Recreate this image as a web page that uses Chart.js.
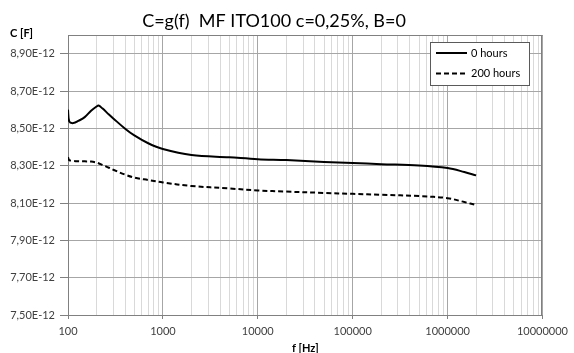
<!DOCTYPE html>
<html>
<head>
<meta charset="utf-8">
<script src="https://cdn.jsdelivr.net/npm/chart.js@4"></script>
<style>
html, body { margin: 0; padding: 0; background: #fff; }
</style>
</head>
<body>
<canvas id="cv" width="574" height="353"></canvas>
<script>
// frequenz in Hz
const freq = [100, 103, 114, 130, 150, 175, 200, 210, 230, 270, 300, 400, 500, 700, 1000, 2000, 5000, 10000, 20000, 50000, 100000, 200000, 500000, 1000000, 1500000, 2000000];
// kapazitaet in pF (x 1E-12 F)
const hours0 = [8.600, 8.537, 8.528, 8.541, 8.560, 8.594, 8.617, 8.622, 8.607, 8.574, 8.553, 8.498, 8.462, 8.420, 8.389, 8.357, 8.345, 8.335, 8.330, 8.320, 8.314, 8.308, 8.301, 8.287, 8.266, 8.248];
const hours200 = [8.345, 8.330, 8.326, 8.324, 8.323, 8.322, 8.317, 8.313, 8.304, 8.289, 8.278, 8.252, 8.236, 8.223, 8.210, 8.191, 8.178, 8.167, 8.161, 8.154, 8.149, 8.144, 8.137, 8.126, 8.105, 8.089];
const seriesNames = ["0 hours", "200 hours"];
const yTicks = [7.5, 7.7, 7.9, 8.1, 8.3, 8.5, 8.7, 8.9];
const decades = [100, 1000, 10000, 100000, 1000000, 10000000];

const FONT = "Lato, 'Open Sans', sans-serif";

function isMajor(v) {
    return decades.includes(Math.round(v));
}

// legende mit rahmen im diagramm
const boxLegend = {
    id: "boxLegend",
    afterDraw(chart) {
        const ctx = chart.ctx;
        ctx.save();
        ctx.fillStyle = "#fff";
        ctx.fillRect(430.5, 42.5, 99, 43);
        ctx.strokeStyle = "#5a5a5a";
        ctx.lineWidth = 1;
        ctx.strokeRect(430.5, 42.5, 99, 43);
        chart.data.datasets.forEach((ds, i) => {
            const y = 53 + i * 20.5;
            ctx.beginPath();
            ctx.setLineDash(ds.borderDash || []);
            ctx.lineWidth = 2;
            ctx.strokeStyle = ds.borderColor;
            ctx.moveTo(436, y);
            ctx.lineTo(467, y);
            ctx.stroke();
            ctx.setLineDash([]);
            ctx.fillStyle = "#000";
            ctx.font = "11px " + FONT;
            ctx.textBaseline = "middle";
            ctx.fillText(ds.label, 471, y);
        });
        ctx.restore();
    }
};

// rahmen oben/rechts + y-achsentitel
const frame = {
    id: "frame",
    beforeDatasetsDraw(chart) {
        const a = chart.chartArea;
        const ctx = chart.ctx;
        ctx.save();
        ctx.strokeStyle = "#808080";
        ctx.lineWidth = 1;
        ctx.beginPath();
        ctx.moveTo(a.left, Math.round(a.top) + 0.5);
        ctx.lineTo(a.right, Math.round(a.top) + 0.5);
        ctx.moveTo(Math.round(a.right) - 0.5, a.top);
        ctx.lineTo(Math.round(a.right) - 0.5, a.bottom);
        ctx.stroke();
        ctx.restore();
    },
    afterDraw(chart) {
        const ctx = chart.ctx;
        ctx.save();
        ctx.fillStyle = "#000";
        ctx.font = "bold 11px " + FONT;
        ctx.textBaseline = "middle";
        ctx.fillText("C [F]", 10, 33);
        ctx.restore();
    }
};

const config = {
    type: "line",
    data: {
        datasets: [
            {
                label: seriesNames[0],
                data: freq.map((f, i) => ({ x: f, y: hours0[i] })),
                borderColor: "#000",
                borderWidth: 2,
                pointRadius: 0,
                tension: 0.35,
                fill: false
            },
            {
                label: seriesNames[1],
                data: freq.map((f, i) => ({ x: f, y: hours200[i] })),
                borderColor: "#000",
                borderWidth: 2,
                borderDash: [5, 3],
                pointRadius: 0,
                tension: 0.35,
                fill: false
            }
        ]
    },
    options: {
        responsive: false,
        animation: false,
        devicePixelRatio: 1,
        layout: { padding: { left: 0, right: 26, top: 0, bottom: 0 } },
        plugins: {
            legend: { display: false },
            tooltip: { enabled: false },
            title: {
                display: true,
                text: "C=g(f)  MF ITO100 c=0,25%, B=0",
                color: "#000",
                font: { family: FONT, size: 18, weight: "normal" },
                padding: { top: 10, bottom: 3.4 }
            }
        },
        scales: {
            x: {
                type: "logarithmic",
                min: 100,
                max: 10000000,
                afterBuildTicks(scale) {
                    let t = [];
                    for (let d = 100; d < 10000000; d *= 10) {
                        for (let k = 1; k < 10; k++) t.push({ value: d * k });
                    }
                    t.push({ value: 10000000 });
                    scale.ticks = t;
                },
                afterFit(scale) { scale.height = 38; },
                grid: {
                    color: (c) => isMajor(c.tick.value) ? "#a6a6a6" : "#d9d9d9",
                    tickColor: (c) => isMajor(c.tick.value) ? "#808080" : "rgba(0,0,0,0)",
                    tickLength: 4
                },
                border: { color: "#808080" },
                ticks: {
                    autoSkip: false,
                    maxRotation: 0,
                    minRotation: 0,
                    padding: 6,
                    color: "#404040",
                    font: { family: FONT, size: 11 },
                    callback: (v) => isMajor(v) ? String(Math.round(v)) : ""
                },
                title: {
                    display: true,
                    text: "f [Hz]",
                    color: "#000",
                    font: { family: FONT, size: 11, weight: "bold" },
                    padding: { top: 0, bottom: -2 }
                }
            },
            y: {
                min: 7.5,
                max: 9.0,
                afterBuildTicks(scale) {
                    scale.ticks = yTicks.map((v) => ({ value: v }));
                },
                afterFit(scale) { scale.width = 68; },
                grid: { color: "#a6a6a6", tickColor: "#808080", tickLength: 8 },
                border: { color: "#808080" },
                ticks: {
                    padding: 5,
                    color: "#404040",
                    font: { family: FONT, size: 11 },
                    callback: (v) => v.toFixed(2).replace(".", ",") + "E-12"
                }
            }
        }
    },
    plugins: [frame, boxLegend]
};

new Chart(document.getElementById("cv").getContext("2d"), config);
</script>
</body>
</html>
